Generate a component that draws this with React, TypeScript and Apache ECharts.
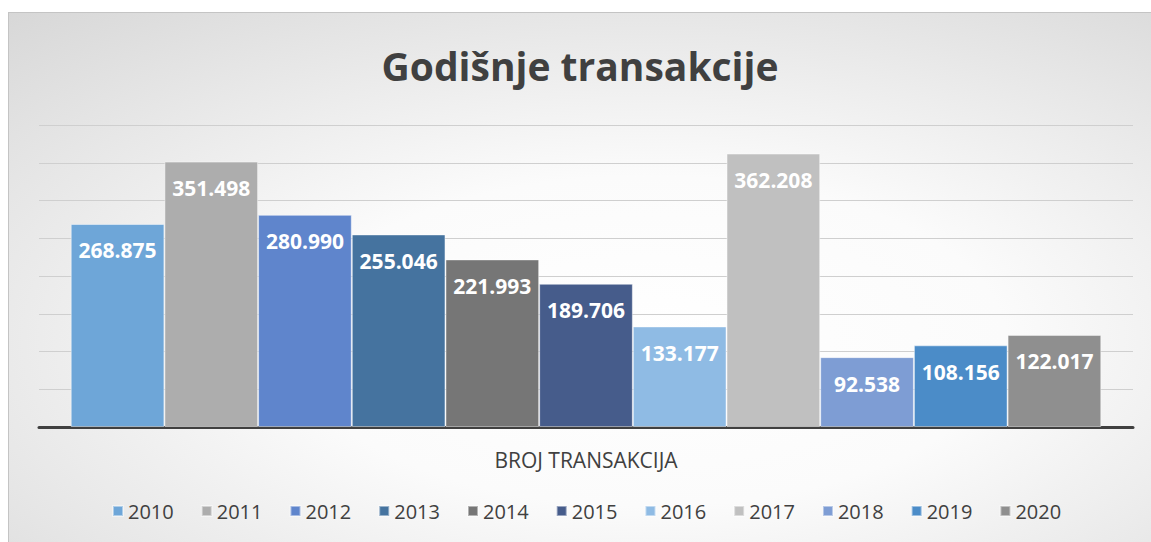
import React, { useEffect, useRef } from "react";
import * as echarts from "echarts";

const categories = ["BROJ TRANSAKCIJA"];
const years = ["2010", "2011", "2012", "2013", "2014", "2015", "2016", "2017", "2018", "2019", "2020"];
const values = [268875, 351498, 280990, 255046, 221993, 189706, 133177, 362208, 92538, 108156, 122017];
const colors = ["#6ea6d8", "#adadad", "#5f85cc", "#45739f", "#767676", "#465c8b", "#8fbbe4", "#c0c0c0", "#7e9dd4", "#4b8cc8", "#8f8f8f"];
const titleText = "Godišnje transakcije";

const fmt = (v: number) => String(v).replace(/\B(?=(\d{3})+(?!\d))/g, ".");

export default function App() {
  const ref = useRef<HTMLDivElement>(null);
  useEffect(() => {
    if (!ref.current) return;
    const chart = echarts.init(ref.current, undefined, { renderer: "svg" });
    chart.setOption({
      animation: false,
      backgroundColor: {
        type: "radial",
        x: 0.56,
        y: 0.62,
        r: 1.25,
        colorStops: [
          { offset: 0, color: "#ffffff" },
          { offset: 0.25, color: "#fbfbfb" },
          { offset: 1, color: "#bbbbbb" },
        ],
      },
      textStyle: { fontFamily: "Open Sans" },
      title: {
        text: titleText,
        left: "center",
        top: 28,
        textStyle: { fontSize: 39, fontWeight: "bold", color: "#404040", fontFamily: "Open Sans" },
      },
      legend: {
        data: years,
        left: 98,
        top: 483,
        itemWidth: 10,
        itemHeight: 10,
        itemGap: 27,
        icon: "rect",
        textStyle: { fontSize: 20, color: "#404040", fontFamily: "Open Sans" },
      },
      grid: { left: 30, right: 18, top: 112, bottom: 115, containLabel: false },
      xAxis: {
        type: "category",
        data: categories,
        axisLine: { lineStyle: { color: "#404040", width: 3 } },
        axisTick: { show: false },
        axisLabel: { fontSize: 21, color: "#404040", margin: 22, fontFamily: "Open Sans" },
      },
      yAxis: {
        type: "value",
        min: 0,
        max: 400000,
        interval: 50000,
        axisLabel: { show: false },
        axisLine: { show: false },
        axisTick: { show: false },
        splitLine: { lineStyle: { color: "#cfcfcf", width: 1 } },
      },
      series: years.map((y, i) => ({
        name: y,
        type: "bar",
        data: [values[i]],
        barGap: "0%",
        barCategoryGap: "5.8%",
        itemStyle: { color: colors[i], borderColor: "rgba(255,255,255,0.45)", borderWidth: 1 },
        label: {
          show: true,
          position: "insideTop",
          distance: 16,
          formatter: (p: any) => fmt(p.value),
          color: "#ffffff",
          fontSize: 21,
          fontWeight: "bold",
          fontFamily: "Open Sans",
        },
      })),
    });
    return () => chart.dispose();
  }, []);
  return (
    <div
      ref={ref}
      style={{
        position: "absolute",
        left: 8,
        top: 12,
        width: 1143,
        height: 530,
        borderTop: "1px solid #c4c4c4",
        borderLeft: "1px solid #c4c4c4",
        boxSizing: "border-box",
      }}
    />
  );
}
